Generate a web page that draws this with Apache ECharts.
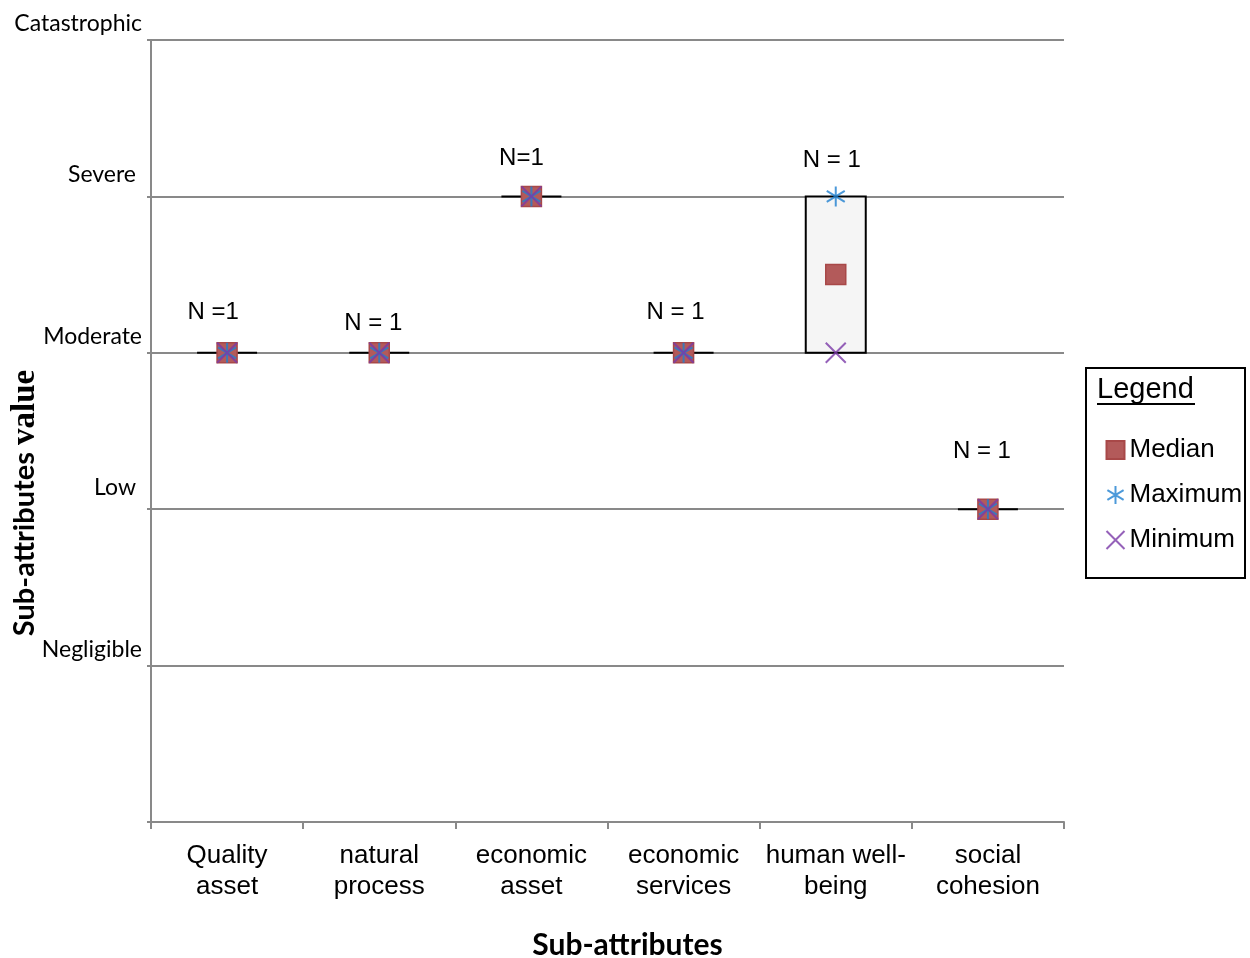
<!DOCTYPE html>
<html>
<head>
<meta charset="utf-8">
<title>Sub-attributes value</title>
<script src="https://cdn.jsdelivr.net/npm/echarts@6/dist/echarts.min.js"></script>
<style>
  html, body { margin: 0; padding: 0; background: #fff; }
  #chart { width: 1250px; height: 958px; }
</style>
</head>
<body>
<div id="chart"></div>
<script>
// Sub-attribute categories (x axis)
const categories = ['Quality\nasset', 'natural\nprocess', 'economic\nasset', 'economic\nservices', 'human well-\nbeing', 'social\ncohesion'];

// Severity scale (y axis), index = value
const levelLabels = ['', 'Negligible', 'Low', 'Moderate', 'Severe', 'Catastrophic'];

// Summary values per sub-attribute on the severity scale
const medianValues = [3, 3, 4, 3, 3.5, 2];
const maximumValues = [3, 3, 4, 3, 4, 2];
const minimumValues = [3, 3, 4, 3, 3, 2];

// Sample-size annotation per sub-attribute
const nLabels = ['N =1', 'N = 1', 'N=1', 'N = 1', 'N = 1', 'N = 1'];

// Annotation placement (pixel offsets relative to the maximum mark)
const nLabelOffsets = [[-14, -40], [-6, -29], [-10, -38], [-8, -40], [-4, -36], [-6, -58]];

const sansCal = 'Lato, "Open Sans", sans-serif';
const sansArial = '"Liberation Sans", Arial, sans-serif';
const serifBold = '"Liberation Serif", "DejaVu Serif", serif';

const asteriskPath = 'path://M10 0 L10 20 M1 4.5 L19 15.5 M1 15.5 L19 4.5';
const crossPath = 'path://M0 0 L20 20 M0 20 L20 0';

const chart = echarts.init(document.getElementById('chart'));

const option = {
  animation: false,
  backgroundColor: '#fff',
  grid: { left: 151, right: 186, top: 40, bottom: 136, containLabel: false, outerBoundsMode: 'none' },
  xAxis: {
    type: 'category',
    data: categories,
    boundaryGap: true,
    axisLine: { lineStyle: { color: '#898989', width: 2 } },
    axisTick: { show: true, interval: 0, length: 7, lineStyle: { color: '#898989', width: 2 } },
    axisLabel: {
      interval: 0,
      margin: 18,
      fontFamily: sansArial,
      fontSize: 26,
      lineHeight: 31,
      color: '#000'
    },
    name: 'Sub-attributes',
    nameLocation: 'middle',
    nameGap: 108,
    nameTextStyle: {
      fontFamily: sansCal,
      fontWeight: 'bold',
      fontSize: 30,
      color: '#000',
      padding: [0, 0, 0, 40]
    }
  },
  yAxis: {
    type: 'value',
    min: 0,
    max: 5,
    interval: 1,
    axisLine: { show: true, lineStyle: { color: '#898989', width: 2 } },
    axisTick: { show: true, length: 4, lineStyle: { color: '#898989', width: 2 } },
    splitLine: { show: true, lineStyle: { color: '#898989', width: 2 } },
    axisLabel: {
      margin: 9,
      verticalAlign: 'bottom',
      formatter: function (v) {
        const t = levelLabels[v];
        if (!t) return '';
        return (v % 2 === 0 ? '{b|' : '{a|') + t + '}';
      },
      rich: {
        a: { fontFamily: sansCal, fontSize: 23, lineHeight: 26, color: '#000', padding: [0, 0, 6, 0] },
        b: { fontFamily: sansCal, fontSize: 23, lineHeight: 26, color: '#000', padding: [0, 6, 17, 0] }
      }
    }
  },
  legend: {
    orient: 'vertical',
    left: 1104,
    top: 437,
    padding: 0,
    itemWidth: 18,
    itemHeight: 18,
    itemGap: 19,
    data: ['Median', 'Maximum', 'Minimum'],
    textStyle: { fontFamily: sansArial, fontSize: 26, color: '#000' }
  },
  graphic: [
    {
      // vertical axis title
      type: 'text',
      x: 25,
      y: 503,
      rotation: Math.PI / 2,
      style: {
        text: '{s|Sub-attributes }{v|value}',
        align: 'center',
        verticalAlign: 'middle',
        rich: {
          s: { fontFamily: sansCal, fontWeight: 'bold', fontSize: 29, fill: '#000' },
          v: { fontFamily: serifBold, fontWeight: 'bold', fontSize: 33, fill: '#000' }
        }
      }
    },
    {
      type: 'rect',
      shape: { x: 1086, y: 368, width: 159, height: 210 },
      style: { fill: 'none', stroke: '#000', lineWidth: 2 },
      z: 0
    },
    {
      type: 'text',
      x: 1097,
      y: 390,
      style: {
        text: 'Legend',
        fontFamily: sansArial,
        fontSize: 29,
        fill: '#000',
        verticalAlign: 'middle'
      }
    },
    {
      type: 'line',
      shape: { x1: 1097, y1: 404, x2: 1195, y2: 404 },
      style: { stroke: '#000', lineWidth: 2 }
    }
  ],
  series: [
    {
      name: 'Range',
      type: 'custom',
      data: categories.map((c, i) => [i, minimumValues[i], maximumValues[i]]),
      renderItem: function (params, api) {
        const lo = api.coord([api.value(0), api.value(1)]);
        const hi = api.coord([api.value(0), api.value(2)]);
        const half = 30;
        if (Math.abs(lo[1] - hi[1]) < 0.5) {
          return {
            type: 'line',
            shape: { x1: lo[0] - half, y1: lo[1], x2: lo[0] + half, y2: lo[1] },
            style: { stroke: '#000', lineWidth: 2 }
          };
        }
        return {
          type: 'rect',
          shape: { x: lo[0] - half, y: hi[1], width: half * 2, height: lo[1] - hi[1] },
          style: { fill: '#f5f5f5', stroke: '#000', lineWidth: 2 }
        };
      },
      z: 2
    },
    {
      name: 'Median',
      type: 'scatter',
      symbol: 'rect',
      symbolSize: 20,
      data: medianValues.map((v, i) => [i, v]),
      itemStyle: { color: '#b35a5a', borderColor: '#a84848', borderWidth: 1.5, opacity: 1 },
      z: 3
    },
    {
      name: 'Maximum',
      type: 'scatter',
      symbol: asteriskPath,
      symbolSize: 20,
      symbolKeepAspect: true,
      data: maximumValues.map((v, i) => [i, v]),
      itemStyle: { color: 'none', borderColor: '#1f7fd0', borderWidth: 2 },
      label: {
        show: true,
        position: 'top',
        formatter: function (p) { return nLabels[p.dataIndex]; },
        fontFamily: sansArial,
        fontSize: 24,
        color: '#000',
        opacity: 1,
        textBorderWidth: 0
      },
      labelLayout: function (params) {
        const off = nLabelOffsets[params.dataIndex];
        const r = params.labelRect;
        const cx = params.rect.x + params.rect.width / 2;
        const cy = params.rect.y + params.rect.height / 2;
        return { x: cx + off[0] - r.width / 2, y: cy + off[1] - r.height / 2 };
      },
      z: 4
    },
    {
      name: 'Minimum',
      type: 'scatter',
      symbol: crossPath,
      symbolSize: 20,
      symbolKeepAspect: true,
      data: minimumValues.map((v, i) => [i, v]),
      itemStyle: { color: 'none', borderColor: '#7a3aa8', borderWidth: 2 },
      z: 5
    }
  ]
};

chart.setOption(option);
</script>
</body>
</html>
